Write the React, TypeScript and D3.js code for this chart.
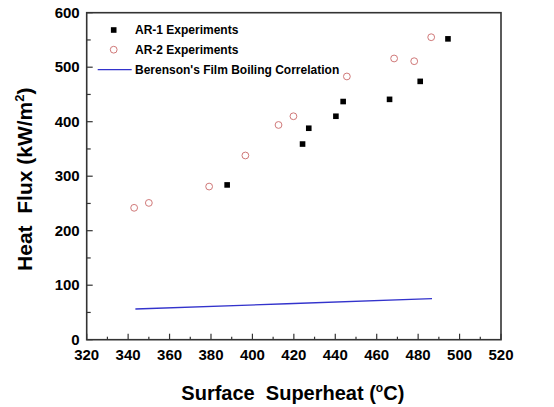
import React, { useEffect, useRef } from 'react';
import * as d3 from 'd3';

// data
const ar1Superheat = [387.8, 424.2, 427.2, 440.3, 443.8, 466.2, 481.0, 494.4];
const ar1Flux = [284, 359, 388, 410, 437, 441, 474, 552];

const ar2Superheat = [342.9, 350.0, 379.1, 396.6, 412.6, 419.8, 445.6, 468.4, 478.1, 486.3];
const ar2Flux = [242, 251, 281, 338, 394, 410, 483, 516, 511, 555];

const berensonSuperheat = [343.5, 416.6, 486.7];
const berensonFlux = [56.3, 66.0, 75.2];

const xTicks = [320, 340, 360, 380, 400, 420, 440, 460, 480, 500, 520];
const yTicks = [0, 100, 200, 300, 400, 500, 600];

const legendLabels = ['AR-1 Experiments', 'AR-2 Experiments', "Berenson's Film Boiling Correlation"];

const W = 554;
const H = 407;
const margin = { top: 12.7, right: 53, bottom: 67.3, left: 86.7 };
const FONT = '"Liberation Sans", Arial, sans-serif';

const App = () => {
  const ref = useRef<SVGSVGElement>(null);

  useEffect(() => {
    if (!ref.current) return;
    const root = d3.select(ref.current);
    root.selectAll('*').remove();

    const iw = W - margin.left - margin.right;
    const ih = H - margin.top - margin.bottom;

    const x = d3.scaleLinear().domain([320, 520]).range([0, iw]);
    const y = d3.scaleLinear().domain([0, 600]).range([ih, 0]);

    const svg = root.append('g').attr('transform', `translate(${margin.left},${margin.top})`);

    // ticks (inward), major + minor
    const tickG = svg.append('g').attr('stroke', '#333').attr('stroke-width', 1.2);
    d3.range(320, 521, 10).forEach(v => {
      const major = v % 20 === 0;
      tickG.append('line')
        .attr('x1', x(v)).attr('x2', x(v))
        .attr('y1', ih).attr('y2', ih - (major ? 6 : 3));
    });
    d3.range(0, 601, 50).forEach(v => {
      const major = v % 100 === 0;
      tickG.append('line')
        .attr('x1', 0).attr('x2', major ? 6 : 4)
        .attr('y1', y(v)).attr('y2', y(v));
    });

    // frame
    svg.append('rect')
      .attr('x', 0).attr('y', 0).attr('width', iw).attr('height', ih)
      .attr('fill', 'none').attr('stroke', '#333').attr('stroke-width', 1.6);

    // tick labels
    svg.selectAll('.xl').data(xTicks).enter().append('text')
      .attr('x', d => x(d)).attr('y', ih + 20)
      .attr('text-anchor', 'middle')
      .style('font-family', FONT).style('font-size', '15px').style('font-weight', 'bold')
      .text(d => d);

    svg.selectAll('.yl').data(yTicks).enter().append('text')
      .attr('x', -7).attr('y', d => y(d)).attr('dy', '0.35em')
      .attr('text-anchor', 'end')
      .style('font-family', FONT).style('font-size', '15px').style('font-weight', 'bold')
      .text(d => d);

    // axis titles
    const xt = svg.append('text')
      .attr('x', iw / 2 - 1).attr('y', ih + 60)
      .attr('text-anchor', 'middle')
      .style('font-family', FONT).style('font-size', '20px').style('font-weight', 'bold')
      .style('white-space', 'pre');
    xt.append('tspan').text('Surface  Superheat (');
    xt.append('tspan').attr('dy', -8).style('font-size', '12px').text('o');
    xt.append('tspan').attr('dy', 8).text('C)');

    const yt = svg.append('text')
      .attr('transform', `translate(${-55},${ih / 2 + 3}) rotate(-90)`)
      .attr('text-anchor', 'middle')
      .style('font-family', FONT).style('font-size', '21px').style('font-weight', 'bold')
      .style('white-space', 'pre');
    yt.append('tspan').text('Heat  Flux (kW/m');
    yt.append('tspan').attr('dy', -8).style('font-size', '13px').text('2');
    yt.append('tspan').attr('dy', 8).text(')');

    // Berenson line
    const line = d3.line<number>()
      .x((d, i) => x(berensonSuperheat[i]))
      .y(d => y(d));
    svg.append('path')
      .datum(berensonFlux)
      .attr('d', line)
      .attr('fill', 'none').attr('stroke', '#3333cc').attr('stroke-width', 1.3);

    // AR-2 circles
    svg.selectAll('.c').data(ar2Flux).enter().append('circle')
      .attr('cx', (d, i) => x(ar2Superheat[i])).attr('cy', d => y(d))
      .attr('r', 3.4)
      .attr('fill', 'none').attr('stroke', '#d07878').attr('stroke-width', 1);

    // AR-1 squares
    const s = 5.6;
    svg.selectAll('.s').data(ar1Flux).enter().append('rect')
      .attr('x', (d, i) => x(ar1Superheat[i]) - s / 2).attr('y', d => y(d) - s / 2)
      .attr('width', s).attr('height', s)
      .attr('fill', '#000');

    // legend
    const lg = svg.append('g');
    const ly = [30 - margin.top, 49.7 - margin.top, 69.7 - margin.top];
    const mx = 113.7 - margin.left;
    lg.append('rect').attr('x', mx - 2.8).attr('y', ly[0] - 2.8).attr('width', 5.6).attr('height', 5.6).attr('fill', '#000');
    lg.append('circle').attr('cx', mx).attr('cy', ly[1]).attr('r', 3.4)
      .attr('fill', 'none').attr('stroke', '#d07878').attr('stroke-width', 1);
    lg.append('line').attr('x1', 97.7 - margin.left).attr('x2', 131.7 - margin.left)
      .attr('y1', ly[2]).attr('y2', ly[2]).attr('stroke', '#3333cc').attr('stroke-width', 1.3);
    legendLabels.forEach((t, i) => {
      lg.append('text')
        .attr('x', 135 - margin.left).attr('y', ly[i]).attr('dy', '0.35em')
        .style('font-family', FONT).style('font-size', '12px').style('font-weight', 'bold')
        .text(t);
    });
  }, []);

  return (
    <svg ref={ref} width={W} height={H} style={{ position: 'absolute', left: 0, top: 0, background: '#fff' }} />
  );
};

export default App;
